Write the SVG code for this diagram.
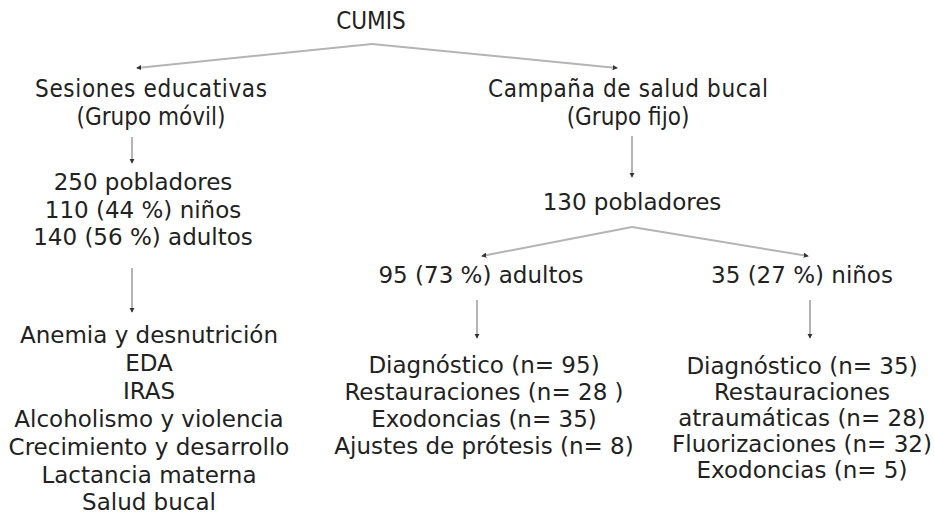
<svg xmlns="http://www.w3.org/2000/svg" width="934" height="514" viewBox="0 0 934 514">
<style>
text{font-family:"DejaVu Sans","Liberation Sans",sans-serif;font-size:23px;fill:#222;text-anchor:middle}
.h{font-family:"DejaVu Sans Condensed","DejaVu Sans",sans-serif;font-size:24px}
.c{stroke:#b4b4b4;stroke-width:2;fill:none;marker-end:url(#a)}
</style>
<defs>
<marker id="a" viewBox="0 0 6 6" refX="5" refY="3" markerWidth="2.6" markerHeight="2.6" orient="auto" markerUnits="strokeWidth">
<path d="M0,0 L6,3 L0,6 z" fill="#333"/>
</marker>
</defs>
<rect width="934" height="514" fill="#fff"/>
<g id="connectors">
<path class="c" d="M372,44 L137,68"/>
<path class="c" d="M372,44 L617,68"/>
<path class="c" d="M132,137 L132,163"/>
<path class="c" d="M132,268 L132,312"/>
<path class="c" d="M632,136 L632,177"/>
<path class="c" d="M632,227 L482,256"/>
<path class="c" d="M632,227 L808,256"/>
<path class="c" d="M477,300 L477,338"/>
<path class="c" d="M810,300 L810,338"/>
</g>
<g id="cumis"><text class="h" x="371" y="29">CUMIS</text></g>
<g id="sesiones"><text class="h" x="151" y="97" textLength="232">Sesiones educativas</text><text class="h" x="151" y="125">(Grupo móvil)</text></g>
<g id="campana"><text class="h" x="628" y="97" textLength="280">Campaña de salud bucal</text><text class="h" x="628" y="125">(Grupo fijo)</text></g>
<g id="pob250"><text x="143" y="190">250 pobladores</text><text x="143" y="218">110 (44 %) niños</text><text x="143" y="245">140 (56 %) adultos</text></g>
<g id="temas">
<text x="149" y="343">Anemia y desnutrición</text>
<text x="149" y="371">EDA</text>
<text x="149" y="399">IRAS</text>
<text x="149" y="427">Alcoholismo y violencia</text>
<text x="149" y="455">Crecimiento y desarrollo</text>
<text x="149" y="483">Lactancia materna</text>
<text x="149" y="510">Salud bucal</text>
</g>
<g id="pob130"><text x="632" y="210">130 pobladores</text></g>
<g id="adultos"><text x="481" y="283">95 (73 %) adultos</text></g>
<g id="ninos"><text x="802" y="283">35 (27 %) niños</text></g>
<g id="proc-adultos">
<text x="484" y="373">Diagnóstico (n= 95)</text>
<text x="484" y="400">Restauraciones (n= 28 )</text>
<text x="484" y="427">Exodoncias (n= 35)</text>
<text x="484" y="454">Ajustes de prótesis (n= 8)</text>
</g>
<g id="proc-ninos">
<text x="802" y="374">Diagnóstico (n= 35)</text>
<text x="802" y="400">Restauraciones</text>
<text x="802" y="426">atraumáticas (n= 28)</text>
<text x="802" y="452">Fluorizaciones (n= 32)</text>
<text x="802" y="478">Exodoncias (n= 5)</text>
</g>
</svg>
